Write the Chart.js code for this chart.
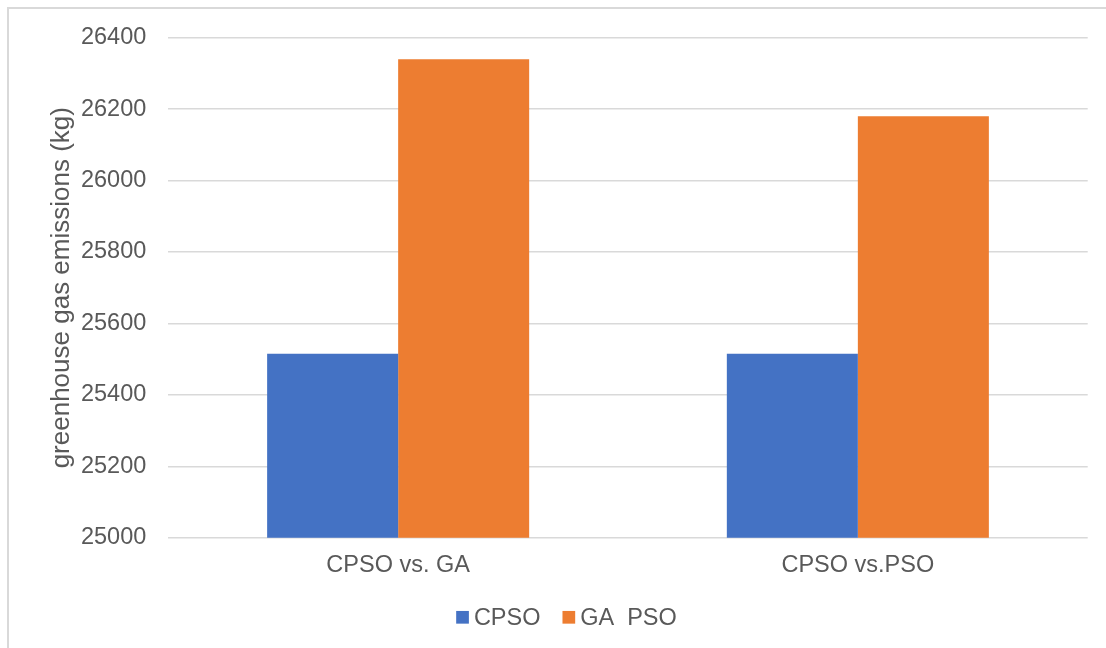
<!DOCTYPE html>
<html>
<head>
<meta charset="utf-8">
<title>Greenhouse gas emissions</title>
<script src="https://cdn.jsdelivr.net/npm/chart.js@4.4.1/dist/chart.umd.min.js"></script>
<style>
  html, body { margin: 0; padding: 0; background: #ffffff; }
  #wrap { position: relative; width: 1106px; height: 648px; overflow: hidden; }
  #frame {
    position: absolute; left: 7px; top: 7px; width: 1200px; height: 700px;
    border-top: 2px solid #d9d9d9; border-left: 2px solid #d9d9d9;
    box-sizing: border-box; pointer-events: none;
  }
  canvas { position: absolute; left: 0; top: 0; }
</style>
</head>
<body>
<div id="wrap">
  <div id="frame"></div>
  <canvas id="chart" width="1106" height="648"></canvas>
</div>
<script>
// Comparison groups and emission totals (kg)
const categories = ['CPSO vs. GA', 'CPSO vs.PSO'];
const seriesNames = ['CPSO', 'GA  PSO'];
const cpsoValues = [25515, 25515];
const rivalValues = [26340, 26180];
const yTicks = [25000, 25200, 25400, 25600, 25800, 26000, 26200, 26400];

const FONT = "'Liberation Sans', Arial, sans-serif";
const TEXT = '#595959';
const COLORS = ['#4472C4', '#ED7D31'];

// Legend drawn beneath the plot: small square swatch followed closely by its name
const bottomKey = {
  id: 'bottomKey',
  afterDraw(chart) {
    const ctx = chart.ctx;
    const size = 23.5, box = 12.7, gap = 5, spacing = 22;
    const cx = 566.5, cy = 617.3;
    ctx.save();
    ctx.font = size + 'px ' + FONT;
    ctx.textBaseline = 'middle';
    ctx.textAlign = 'left';
    const items = chart.data.datasets.map(ds => ({
      text: ds.label, color: ds.backgroundColor, w: ctx.measureText(ds.label).width
    }));
    let total = 0;
    items.forEach((it, i) => { total += box + gap + it.w + (i ? spacing : 0); });
    let x = cx - total / 2;
    items.forEach((it, i) => {
      if (i) x += spacing;
      ctx.fillStyle = it.color;
      ctx.fillRect(x, cy - box / 2, box, box);
      x += box + gap;
      ctx.fillStyle = TEXT;
      ctx.fillText(it.text, x, cy + 1);
      x += it.w;
    });
    ctx.restore();
  }
};

new Chart(document.getElementById('chart'), {
  type: 'bar',
  data: {
    labels: categories,
    datasets: [
      { label: seriesNames[0], data: cpsoValues, backgroundColor: COLORS[0], borderWidth: 0 },
      { label: seriesNames[1], data: rivalValues, backgroundColor: COLORS[1], borderWidth: 0 }
    ]
  },
  options: {
    responsive: false,
    animation: false,
    events: [],
    layout: { padding: { left: 0, right: 18.3, top: 37.7, bottom: 0 } },
    datasets: { bar: { categoryPercentage: 0.57, barPercentage: 1.0 } },
    plugins: {
      legend: { display: false },
      tooltip: { enabled: false },
      title: { display: false }
    },
    scales: {
      x: {
        grid: { display: false, drawTicks: false },
        border: { display: false },
        ticks: { color: TEXT, font: { family: FONT, size: 23.5 }, padding: 14 },
        afterFit(scale) { scale.height = 110.3; }
      },
      y: {
        min: 25000,
        max: 26400,
        afterBuildTicks(scale) { scale.ticks = yTicks.map(v => ({ value: v })); },
        grid: { color: '#d9d9d9', lineWidth: 1.5, drawTicks: false },
        border: { display: false },
        ticks: {
          color: TEXT,
          font: { family: FONT, size: 23.5 },
          padding: 22,
          callback: v => String(v)
        },
        title: {
          display: true,
          text: 'greenhouse gas emissions (kg)',
          color: TEXT,
          font: { family: FONT, size: 26 },
          padding: { top: 46, bottom: 0 }
        },
        afterFit(scale) { scale.width = 168.3; }
      }
    }
  },
  plugins: [bottomKey]
});
</script>
</body>
</html>
